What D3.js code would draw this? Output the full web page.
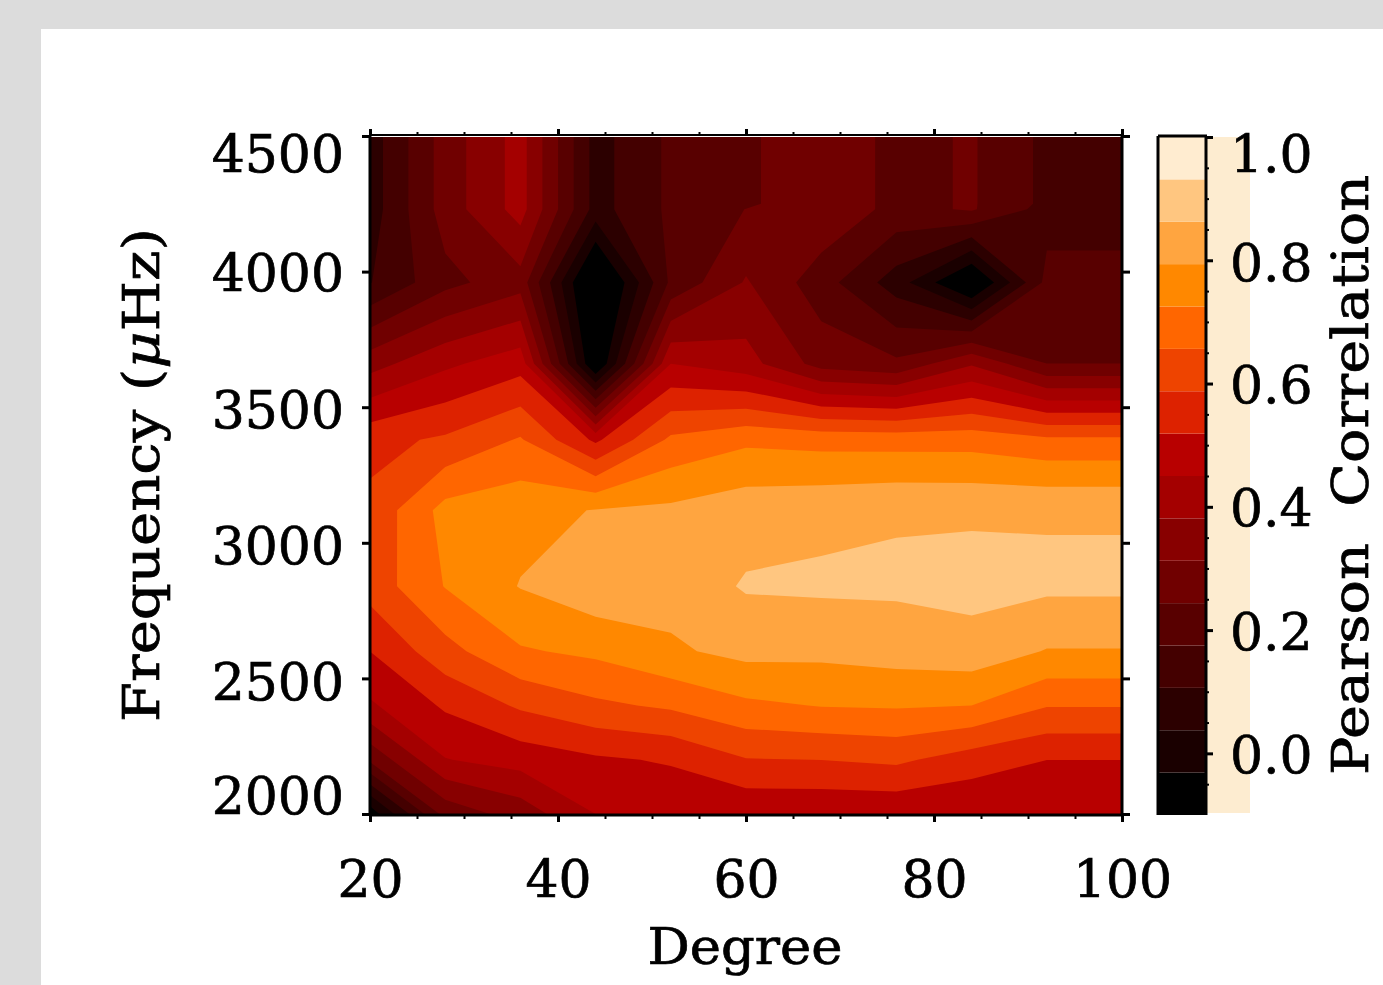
<!DOCTYPE html>
<html>
<head>
<meta charset="utf-8">
<script src="https://cdn.jsdelivr.net/npm/d3@7"></script>
<style>
html,body{margin:0;padding:0;background:#fff;overflow:hidden;}
svg{display:block;}
text{font-family:"DejaVu Serif",serif;fill:#000;stroke:#000;stroke-width:0.7px;}
</style>
</head>
<body>
<svg id="chart" width="1383" height="985"></svg>
<script>
//网格数据：degree为列，frequency为行（从上到下）
var degrees=[20,28,36,44,52,60,68,76,84,92,100];
var frequencies=[4500,4250,4230,3960,3660,3380,3120,2840,2600,2400,2200,2000];
var f4500=[0.071,0.275,0.409,0.079,0.189,0.230,0.299,0.222,0.251,0.158,0.148];
var f4250=[0.071,0.275,0.409,0.079,0.189,0.230,0.299,0.222,0.251,0.158,0.148];
var f4230=[0.071,0.275,0.409,0.079,0.189,0.245,0.299,0.222,0.251,0.148,0.148];
var f3960=[0.103,0.223,0.285,-0.169,0.189,0.319,0.206,0.072,-0.128,0.196,0.196];
var f3660=[0.354,0.436,0.491,-0.114,0.450,0.409,0.285,0.258,0.374,0.244,0.244];
var f3380=[0.567,0.598,0.663,0.505,0.670,0.711,0.701,0.698,0.698,0.670,0.670];
var f3120=[0.604,0.749,0.770,0.797,0.808,0.835,0.845,0.856,0.854,0.856,0.856];
var f2840=[0.616,0.728,0.797,0.842,0.821,0.869,0.874,0.874,0.885,0.876,0.876];
var f2600=[0.519,0.632,0.718,0.739,0.783,0.814,0.811,0.824,0.835,0.790,0.790];
var f2400=[0.440,0.529,0.598,0.643,0.667,0.711,0.728,0.732,0.725,0.660,0.660];
var f2200=[0.258,0.447,0.478,0.508,0.526,0.584,0.588,0.601,0.553,0.519,0.519];
var f2000=[-0.079,0.264,0.340,0.450,0.464,0.460,0.460,0.460,0.457,0.471,0.471];
var rows=[f4500,f4250,f4230,f3960,f3660,f3380,f3120,f2840,f2600,f2400,f2200,f2000];

var bandColors=["#000000","#1a0000","#2c0000","#440000","#580000","#700000","#880000","#a40000",
    "#b80000","#dd2200","#ee4400","#ff6600","#ff8800","#ffa540","#ffc680","#ffecd0"];
var xMajor=[20,40,60,80,100];
var xMinor=[25,30,35,45,50,55,65,70,75,85,90,95];
var yMajor=[2000,2500,3000,3500,4000,4500];
var cbMajor=[0,0.2,0.4,0.6,0.8,1.0];
var cbMinor=[-0.05,0.05,0.1,0.15,0.25,0.3,0.35,0.45,0.5,0.55,0.65,0.7,0.75,0.85,0.9,0.95];

//标签相对刻度的偏移（原图两端标签被移到轴内）
var yLabelShift={2000:-19,2500:2,3000:2,3500:1,4000:0,4500:17};
var cbLabelShift={0:0,0.2:0,0.4:0,0.6:0,0.8:1,1:16};

var svg=d3.select("#chart");
svg.append("rect").attr("width",1383).attr("height",985).attr("fill","#fff");
svg.append("rect").attr("width",1383).attr("height",29).attr("fill","#dcdcdc");
svg.append("rect").attr("width",41).attr("height",985).attr("fill","#dcdcdc");

var left=370,right=1122,top_=137,bottom=815;
var x=d3.scaleLinear().domain([20,100]).range([left,right]);
var y=d3.scaleLinear().domain([2000,4500]).range([814,136]);
var cb=d3.scaleLinear().domain([-0.1,1.0]).range([815,137]);

//色带阈值
var nBands=bandColors.length;
var step=1.1/nBands;
var thresholds=d3.range(1,nBands).map(function(k){return -0.1+k*step;});

//等值线：d3.contours的格点位于 i+0.5，再映射到真实坐标
var values=[];
rows.forEach(function(r){r.forEach(function(v){values.push(v);});});
var contours=d3.contours().size([degrees.length,frequencies.length]).thresholds(thresholds).smooth(true)(values);

var colIndex=d3.scaleLinear().domain(degrees.map(function(d,i){return i+0.5;})).range(degrees).clamp(true);
var rowIndex=d3.scaleLinear().domain(frequencies.map(function(d,i){return i+0.5;})).range(frequencies).clamp(true);
var project=d3.geoTransform({point:function(px,py){
    var yy=py<=0.5?top_:(py>=frequencies.length-0.5?bottom:y(rowIndex(py)));
    this.stream.point(x(colIndex(px)),yy);
}});
var path=d3.geoPath(project);

var plot=svg.append("g");
plot.append("rect").attr("x",left).attr("y",top_).attr("width",right-left).attr("height",bottom-top_).attr("fill",bandColors[0]);
plot.selectAll("path.band").data(contours).enter().append("path")
    .attr("class","band")
    .attr("d",path)
    .attr("fill",function(d,i){return bandColors[i+1];});

//坐标轴
function styleAxis(g,w){
    g.selectAll(".domain").remove();
    g.selectAll("line").attr("stroke","#000").attr("stroke-width",w);
}
function axisLine(x1,y1,x2,y2,w){
    svg.append("line").attr("x1",x1).attr("y1",y1).attr("x2",x2).attr("y2",y2)
        .attr("stroke","#000").attr("stroke-width",w);
}
var bottomG=svg.append("g").attr("transform","translate(0,"+bottom+")");
bottomG.call(d3.axisBottom(x).tickValues(xMajor).tickSize(7).tickFormat(function(d){return d;}));
styleAxis(bottomG,3);
bottomG.selectAll("text").attr("y",63).attr("dy","0.365em").attr("font-size",52).attr("font-family","DejaVu Serif");
svg.append("g").attr("transform","translate(0,"+bottom+")")
    .call(d3.axisBottom(x).tickValues(xMinor).tickSize(4).tickFormat("")).call(styleAxis,2);
svg.append("g").attr("transform","translate(0,135)")
    .call(d3.axisTop(x).tickValues(xMajor).tickSize(6).tickFormat("")).call(styleAxis,3);
svg.append("g").attr("transform","translate(0,135)")
    .call(d3.axisTop(x).tickValues(xMinor).tickSize(3).tickFormat("")).call(styleAxis,2);

var leftG=svg.append("g").attr("transform","translate("+left+",0)");
leftG.call(d3.axisLeft(y).tickValues(yMajor).tickSize(8).tickFormat(function(d){return d;}));
styleAxis(leftG,3);
leftG.selectAll("text").attr("x",-26).attr("y",function(d){return yLabelShift[d];})
    .attr("dy","0.365em").attr("font-size",52).attr("font-family","DejaVu Serif");
svg.append("g").attr("transform","translate("+right+",0)")
    .call(d3.axisRight(y).tickValues(yMajor).tickSize(8).tickFormat("")).call(styleAxis,3);

axisLine(left,135,left,bottom+1,3);
axisLine(left-1,bottom,right+1,bottom,3);
axisLine(left,135,right,135,2);
axisLine(right,134,right,bottom+1,3);

//色标
svg.append("rect").attr("x",1207).attr("y",137).attr("width",43).attr("height",676).attr("fill","#fdecd0");
svg.append("g").selectAll("rect").data(bandColors).enter().append("rect")
    .attr("x",1158).attr("width",48)
    .attr("y",function(d,i){return cb(-0.1+(i+1)*step);})
    .attr("height",function(d,i){return cb(-0.1+i*step)-cb(-0.1+(i+1)*step);})
    .attr("fill",function(d){return d;});
var cbG=svg.append("g").attr("transform","translate(1206,0)");
cbG.call(d3.axisRight(cb).tickValues(cbMajor).tickSize(7).tickFormat(d3.format(".1f")));
styleAxis(cbG,3);
cbG.selectAll("text").attr("x",24).attr("y",function(d){return cbLabelShift[d];})
    .attr("dy","0.365em").attr("font-size",52).attr("font-family","DejaVu Serif");
svg.append("g").attr("transform","translate(1206,0)")
    .call(d3.axisRight(cb).tickValues(cbMinor).tickSize(3).tickFormat("")).call(styleAxis,2);
axisLine(1158,136,1207,136,3);
axisLine(1158,136,1158,815,3);
axisLine(1206,136,1206,815,3);

//标题
svg.append("text").attr("x",745).attr("y",964).attr("text-anchor","middle")
    .attr("font-size",50).attr("textLength",195).attr("lengthAdjust","spacingAndGlyphs").text("Degree");
var yTitle=svg.append("text").attr("transform","translate(159,475) rotate(-90)").attr("text-anchor","middle")
    .attr("font-size",50).attr("textLength",494).attr("lengthAdjust","spacingAndGlyphs");
yTitle.append("tspan").text("Frequency (");
yTitle.append("tspan").attr("font-style","italic").text("μ");
yTitle.append("tspan").text("Hz)");
svg.append("text").attr("transform","translate(1368,475) rotate(-90)").attr("text-anchor","middle")
    .attr("font-size",50).attr("textLength",600).attr("lengthAdjust","spacingAndGlyphs")
    .attr("xml:space","preserve").text("Pearson  Correlation");
</script>
</body>
</html>
